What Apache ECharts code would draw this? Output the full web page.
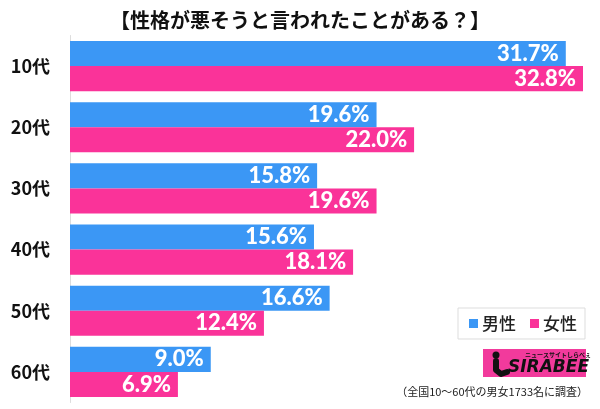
<!DOCTYPE html>
<html><head><meta charset="utf-8">
<script src="https://cdn.jsdelivr.net/npm/echarts@6/dist/echarts.min.js"></script>
<style>html,body{margin:0;padding:0;background:#fff}#c{width:600px;height:409px}</style>
</head><body><div id="c"></div>
<script>
const title = '【性格が悪そうと言われたことがある？】';
const categories = ['10代','20代','30代','40代','50代','60代'];
const male = [31.7, 19.6, 15.8, 15.6, 16.6, 9.0];
const female = [32.8, 22.0, 19.6, 18.1, 12.4, 6.9];
const seriesNames = ['男性','女性'];
const note = '（全国10～60代の男女1733名に調査）';

const blue = '#3b97f5';
const pink = '#fa3399';
const font = '"Noto Sans CJK JP","Noto Sans",sans-serif';
const lbl = {show:true, position:'insideRight', color:'#fff', fontWeight:900, fontSize:22, fontFamily:'Lato,"Noto Sans",sans-serif', distance:7, formatter: p => p.value.toFixed(1) + '%'};

const chart = echarts.init(document.getElementById('c'));
chart.setOption({
  animation:false,
  title:{text:title, left:'center', top:5, textStyle:{fontSize:20, fontWeight:'bold', color:'#111', fontFamily:font}},
  legend:{data:seriesNames, right:15, top:308, itemWidth:9, itemHeight:9, itemGap:14, padding:[7,8,7,11], borderColor:'#ddd', borderWidth:1,
    icon:'rect', textStyle:{fontSize:17, color:'#222', fontFamily:font, fontWeight:500, padding:[0,0,0,-1]}},
  grid:{left:70, right:17, top:35.5, bottom:6.5, containLabel:false},
  xAxis:{type:'value', min:0, max:32.8, show:false},
  yAxis:{type:'category', data:categories, inverse:true,
    axisLine:{show:true, lineStyle:{color:'#ddd', width:1}}, axisTick:{show:false},
    axisLabel:{color:'#111', fontWeight:'bold', fontSize:18, fontFamily:font, margin:20}},
  series:[
    {name:seriesNames[0], type:'bar', data:male, itemStyle:{color:blue}, barGap:'0%', barCategoryGap:'18%', label:lbl},
    {name:seriesNames[1], type:'bar', data:female, itemStyle:{color:pink}, label:lbl}
  ],
  graphic:[
    {type:'rect', left:483, top:349, shape:{width:103, height:28}, style:{fill:'#f23a9c'}},
    {type:'circle', shape:{cx:496, cy:355, r:3.5}, style:{fill:'#111'}},
    {type:'polyline', shape:{points:[[496,361],[496,370],[501,374],[507,372]]}, style:{stroke:'#111', lineWidth:6, fill:null, lineCap:'round', lineJoin:'round'}},
    {type:'text', left:525, top:352, style:{text:'ニュースサイトしらべぇ', fill:'#111', font:'bold 6px "Noto Sans CJK JP"'}},
    {type:'text', left:508, top:359, style:{text:'SIRABEE', fill:'#111', font:'italic 900 17px "DejaVu Sans"'}},
    {type:'text', right:12, top:386, style:{text:note, fill:'#222', font:'11px "Noto Sans CJK JP"'}}
  ]
});
</script></body></html>
